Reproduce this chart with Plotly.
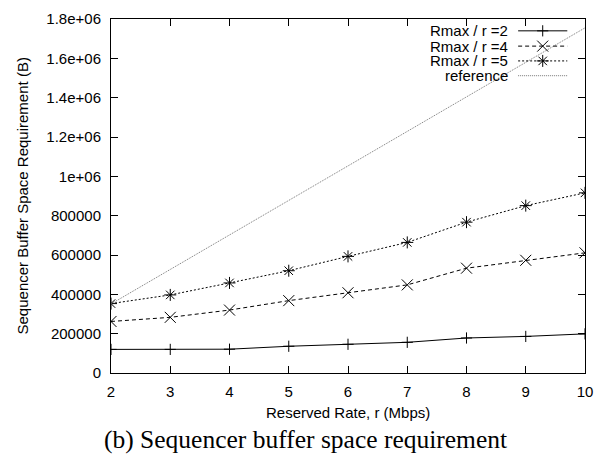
import plotly.graph_objects as go

rates = [2, 3, 4, 5, 6, 7, 8, 9, 10]
rmax_r2 = [120000, 120000, 121000, 136000, 146000, 156000, 178000, 186000, 199000]
rmax_r4 = [262000, 283000, 320000, 368000, 408000, 448000, 533000, 573000, 611000]
rmax_r5 = [353000, 397000, 458000, 520000, 593000, 664000, 767000, 851000, 916000]
reference = [351000, 526500, 702000, 877500, 1053000, 1228500, 1404000, 1579500, 1755000]

series_names = ["Rmax / r =2", "Rmax / r =4", "Rmax / r =5", "reference"]
y_tickvals = [0, 200000, 400000, 600000, 800000, 1000000, 1200000, 1400000, 1600000, 1800000]
y_ticktext = ["0", "200000", "400000", "600000", "800000", "1e+06", "1.2e+06", "1.4e+06", "1.6e+06", "1.8e+06"]
x_tickvals = rates

x_title = "Reserved Rate, r (Mbps)"
y_title = "Sequencer Buffer Space Requirement (B)"
caption = "(b) Sequencer buffer space requirement"

FONT = "Liberation Sans, Arial, sans-serif"
SERIF = "Liberation Serif, Times New Roman, serif"

styles = [
    dict(line=dict(color="black", width=1), symbol="cross-thin", size=8),
    dict(line=dict(color="black", width=1, dash="4px,3px"), symbol="x-thin", size=11),
    dict(line=dict(color="black", width=1, dash="2px,2px"), symbol="asterisk", size=10),
    dict(line=dict(color="#777777", width=1, dash="1px,1px"), symbol=None, size=0),
]
series = [rmax_r2, rmax_r4, rmax_r5, reference]

fig = go.Figure()
for name, ys, st in zip(series_names, series, styles):
    if st["symbol"]:
        fig.add_trace(go.Scatter(
            x=rates, y=ys, name=name, mode="lines+markers", showlegend=False,
            line=st["line"],
            marker=dict(symbol=st["symbol"], size=st["size"], color="black",
                        line=dict(color="black", width=1)),
        ))
    else:
        fig.add_trace(go.Scatter(x=rates, y=ys, name=name, mode="lines",
                                 showlegend=False, line=st["line"]))

# gnuplot-style key (text right-aligned, sample to the right), on a pixel overlay axis
key_rows = [26, 41.5, 56.5, 71.5]
key_text_right = 516
key_sample = (525, 575)
annotations = []
for name, st, ry in zip(series_names, styles, key_rows):
    annotations.append(dict(text=name, xref="x2", yref="y2", x=key_text_right, y=ry,
                            xanchor="right", yanchor="middle", showarrow=False, borderpad=0,
                            font=dict(family=FONT, size=15, color="black")))
    fig.add_trace(go.Scatter(x=list(key_sample), y=[ry, ry], xaxis="x2", yaxis="y2",
                             mode="lines", line=st["line"], showlegend=False, hoverinfo="skip"))
    if st["symbol"]:
        fig.add_trace(go.Scatter(x=[sum(key_sample) / 2], y=[ry], xaxis="x2", yaxis="y2",
                                 mode="markers", showlegend=False, hoverinfo="skip",
                                 marker=dict(symbol=st["symbol"], size=st["size"], color="black",
                                             line=dict(color="black", width=1))))

axis_common = dict(
    showline=True, linecolor="black", linewidth=1, mirror="ticks",
    ticks="inside", ticklen=7, tickcolor="black", tickwidth=1,
    showgrid=False, zeroline=False,
    tickfont=dict(family=FONT, size=15, color="black"),
)

annotations.append(dict(text=x_title, xref="paper", yref="paper", x=0.5, y=(373 - 413) / 359,
                        xanchor="center", yanchor="middle", showarrow=False,
                        font=dict(family=FONT, size=15, color="black")))
annotations.append(dict(text=y_title, xref="paper", yref="paper", x=(21 - 111) / 482, y=0.5,
                        xanchor="center", yanchor="middle", showarrow=False, textangle=-90,
                        font=dict(family=FONT, size=15, color="black")))
annotations.append(dict(text=caption, xref="paper", yref="paper", x=(309 - 111) / 482, y=(373 - 456) / 359,
                        xanchor="center", yanchor="bottom", showarrow=False, borderpad=0,
                        font=dict(family=SERIF, size=25.5, color="black")))

fig.update_layout(
    width=603, height=456,
    margin=dict(l=111, r=10, t=14, b=83),
    paper_bgcolor="white", plot_bgcolor="white",
    font=dict(family=FONT, size=15, color="black"),
    xaxis=dict(range=[2, 10], tickvals=x_tickvals, ticklabelstandoff=5, **axis_common),
    yaxis=dict(range=[0, 1800000], tickvals=y_tickvals, ticktext=y_ticktext, ticklabelstandoff=6,
               **axis_common),
    xaxis2=dict(range=[111, 593], overlaying="x", visible=False, fixedrange=True),
    yaxis2=dict(range=[373, 14], overlaying="y", visible=False, fixedrange=True),
    annotations=annotations,
    showlegend=False,
)

fig.write_html("out.html", config={"displayModeBar": False},
               post_script="document.body.style.margin='0';document.body.style.overflow='hidden';")
